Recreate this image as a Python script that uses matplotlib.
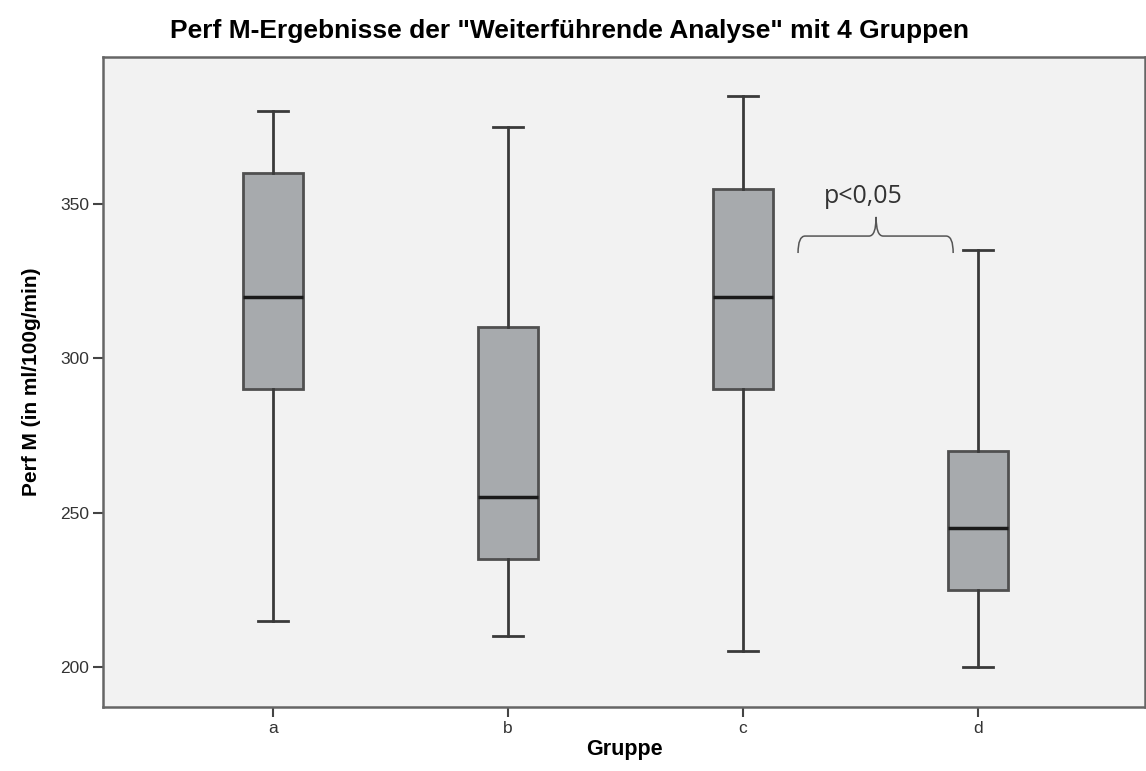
import matplotlib.pyplot as plt
from matplotlib.path import Path
from matplotlib.patches import PathPatch

# Kennwerte der Boxplots je Gruppe
gruppen = ['a', 'b', 'c', 'd']
whisker_unten = [215, 210, 205, 200]
q1 = [290, 235, 290, 225]
median = [320, 255, 320, 245]
q3 = [360, 310, 355, 270]
whisker_oben = [380, 375, 385, 335]

plt.rcParams['font.family'] = ['Liberation Sans', 'DejaVu Sans']

fig = plt.figure(figsize=(11.46, 7.71), dpi=100)
ax = fig.add_axes([0.0899, 0.083, 0.9092, 0.843])
ax.set_facecolor('#f2f2f2')

stats = []
for i, g in enumerate(gruppen):
    stats.append({'label': g, 'whislo': whisker_unten[i], 'q1': q1[i],
                  'med': median[i], 'q3': q3[i], 'whishi': whisker_oben[i],
                  'fliers': []})

pos = list(range(1, len(gruppen) + 1))
ax.bxp(stats, positions=pos, widths=0.255, capwidths=0.13, patch_artist=True,
       boxprops=dict(facecolor='#a7aaad', edgecolor='#505050', linewidth=2),
       medianprops=dict(color='#1a1a1a', linewidth=2.5),
       whiskerprops=dict(color='#3a3a3a', linewidth=2),
       capprops=dict(color='#3a3a3a', linewidth=2))

ax.set_xlim(0.277, 4.71)
ax.set_ylim(187, 397.6)
ax.set_yticks([200, 250, 300, 350])
ax.set_xticks(pos)
ax.set_xticklabels(gruppen)
ax.tick_params(axis='both', direction='out', length=7, width=1.5,
               color='#444444', labelsize=12.5, labelcolor='#333333', pad=3)
for s in ax.spines.values():
    s.set_color('#666666')
    s.set_linewidth(1.8)

ax.set_ylabel('Perf M (in ml/100g/min)', fontsize=15, fontweight='bold',
              labelpad=14)
ax.set_xlabel('Gruppe', fontsize=15.5, fontweight='bold', labelpad=2)
fig.text(0.497, 0.96, 'Perf M-Ergebnisse der "Weiterführende Analyse" mit 4 Gruppen',
         ha='center', va='center', fontsize=19, fontweight='bold')

# geschweifte Klammer zwischen c und d
x0, x1, xm, d = 3.234, 3.894, 3.566, 0.03
y_tip, y_bar, y_top = 334.1, 339.6, 345.8
verts = [(x0, y_tip), (x0, y_bar), (x0 + d, y_bar),
         (xm - d, y_bar), (xm, y_bar), (xm, y_top),
         (xm, y_top), (xm, y_bar), (xm + d, y_bar),
         (x1 - d, y_bar), (x1, y_bar), (x1, y_tip)]
codes = [Path.MOVETO, Path.CURVE3, Path.CURVE3,
         Path.LINETO, Path.CURVE3, Path.CURVE3,
         Path.MOVETO, Path.CURVE3, Path.CURVE3,
         Path.LINETO, Path.CURVE3, Path.CURVE3]
ax.add_patch(PathPatch(Path(verts, codes), facecolor='none',
                       edgecolor='#555555', linewidth=1.1))
ax.text(3.51, 352.3, 'p<0,05', ha='center', va='center', fontsize=18,
        family=['Open Sans', 'DejaVu Sans'], color='#333333')

fig.savefig('out.png', dpi=100)
